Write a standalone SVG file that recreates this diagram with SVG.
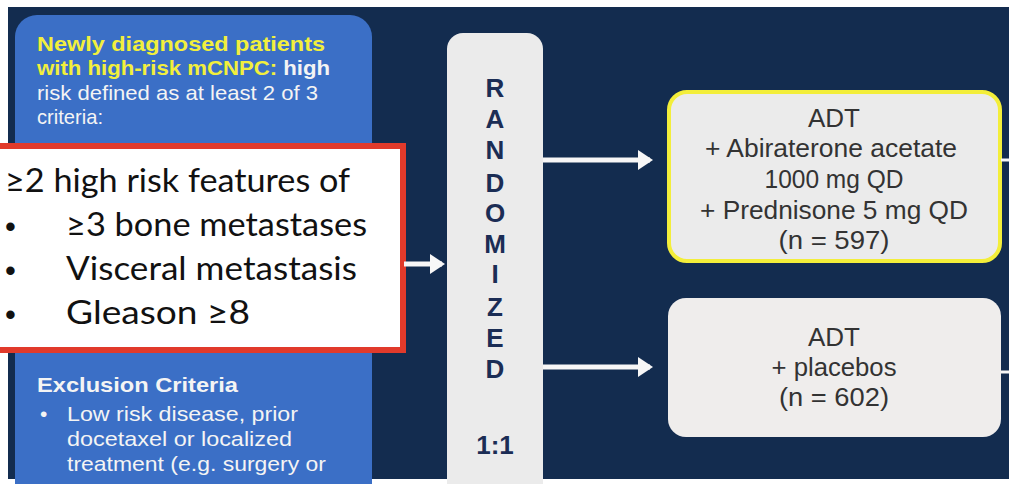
<svg xmlns="http://www.w3.org/2000/svg" width="1009" height="484" viewBox="0 0 1009 484">
<defs>
<style>
.lp{font-family:"Liberation Sans",Arial,sans-serif;font-size:21px;fill:#f4f4f4}
.b{font-weight:bold}
.yl{fill:#f2ef3c;font-weight:bold}
.rb{font-family:Lato,"Liberation Sans",sans-serif;font-size:33px;fill:#111}
.bu{font-family:"Liberation Sans",Arial,sans-serif;font-size:31px;fill:#111}
.rl{font-family:"Liberation Sans",Arial,sans-serif;font-size:26px;font-weight:bold;fill:#1b2d55;text-anchor:middle}
.arm{font-family:"Liberation Sans",Arial,sans-serif;font-size:26px;fill:#333;text-anchor:middle}
.ln{stroke:#f7f7f7;stroke-width:5;fill:none}
</style>
<marker id="ah" markerWidth="4" markerHeight="4" refX="2.4" refY="2" orient="auto" markerUnits="strokeWidth">
<path d="M0,0 L3,2 L0,4 z" fill="#f7f7f7"/>
</marker>
</defs>
<rect x="0" y="0" width="1009" height="484" fill="#ffffff"/>
<rect x="8" y="7" width="1001" height="472" fill="#132c4f"/>
<g id="eligibility">
<rect x="15" y="15" width="357" height="490" rx="22" fill="#3b6fc6"/>
<text class="lp yl" x="37" y="51" textLength="288" lengthAdjust="spacingAndGlyphs">Newly diagnosed patients</text>
<text class="lp b" x="37" y="75" textLength="293" lengthAdjust="spacingAndGlyphs"><tspan class="yl">with high-risk mCNPC:</tspan> high</text>
<text class="lp" x="37" y="100" textLength="281" lengthAdjust="spacingAndGlyphs">risk defined as at least 2 of 3</text>
<text class="lp" x="37" y="124" textLength="66" lengthAdjust="spacingAndGlyphs">criteria:</text>
<text class="lp b" x="37" y="392" textLength="201" lengthAdjust="spacingAndGlyphs">Exclusion Criteria</text>
<text class="lp" x="40" y="421">•</text>
<text class="lp" x="67" y="421" textLength="231" lengthAdjust="spacingAndGlyphs">Low risk disease, prior</text>
<text class="lp" x="67" y="446" textLength="225" lengthAdjust="spacingAndGlyphs">docetaxel or localized</text>
<text class="lp" x="67" y="471" textLength="259" lengthAdjust="spacingAndGlyphs">treatment (e.g. surgery or</text>
</g>
<g id="highrisk">
<rect x="-10" y="146" width="413" height="204" fill="#ffffff" stroke="#e13a2b" stroke-width="6"/>
<text class="rb" x="5" y="192" textLength="345" lengthAdjust="spacingAndGlyphs">≥2 high risk features of</text>
<text class="bu" x="5" y="237">•</text>
<text class="rb" x="66" y="236" textLength="301" lengthAdjust="spacingAndGlyphs">≥3 bone metastases</text>
<text class="bu" x="5" y="281">•</text>
<text class="rb" x="66" y="280" textLength="291" lengthAdjust="spacingAndGlyphs">Visceral metastasis</text>
<text class="bu" x="5" y="325">•</text>
<text class="rb" x="66" y="324" textLength="184" lengthAdjust="spacingAndGlyphs">Gleason ≥8</text>
</g>
<g id="randomized">
<rect x="447" y="33" width="96" height="480" rx="16" fill="#ebebeb"/>
<text class="rl"><tspan x="495" y="97">R</tspan><tspan x="495" y="128">A</tspan><tspan x="495" y="159">N</tspan><tspan x="495" y="192">D</tspan><tspan x="495" y="222">O</tspan><tspan x="495" y="253">M</tspan><tspan x="495" y="283">I</tspan><tspan x="495" y="316">Z</tspan><tspan x="495" y="347">E</tspan><tspan x="495" y="378">D</tspan><tspan x="495" y="454">1:1</tspan></text>
</g>
<g id="arm-abiraterone">
<rect x="669" y="92" width="331" height="169" rx="18" fill="#ebebeb" stroke="#f3ee3a" stroke-width="4"/>
<text class="arm" x="834" y="127">ADT</text>
<text class="arm" x="831" y="157" textLength="252" lengthAdjust="spacingAndGlyphs">+ Abiraterone acetate</text>
<text class="arm" x="834" y="188" textLength="139" lengthAdjust="spacingAndGlyphs">1000 mg QD</text>
<text class="arm" x="834" y="219" textLength="268" lengthAdjust="spacingAndGlyphs">+ Prednisone 5 mg QD</text>
<text class="arm" x="834" y="249" textLength="111" lengthAdjust="spacingAndGlyphs">(n = 597)</text>
</g>
<g id="arm-placebo">
<rect x="668" y="298" width="333" height="139" rx="18" fill="#efedec"/>
<text class="arm" x="834" y="346">ADT</text>
<text class="arm" x="834" y="376" textLength="125" lengthAdjust="spacingAndGlyphs">+ placebos</text>
<text class="arm" x="834" y="406" textLength="110" lengthAdjust="spacingAndGlyphs">(n = 602)</text>
</g>
<g id="connectors">
<line class="ln" x1="404" y1="264" x2="442" y2="264" marker-end="url(#ah)"/>
<line class="ln" x1="543" y1="160" x2="650" y2="160" marker-end="url(#ah)"/>
<line class="ln" x1="543" y1="367" x2="650" y2="367" marker-end="url(#ah)"/>
<line x1="1001" y1="160" x2="1009" y2="160" stroke="#f7f7f7" stroke-width="3"/>
<line x1="1001" y1="372" x2="1009" y2="372" stroke="#f7f7f7" stroke-width="3"/>
</g>
</svg>
